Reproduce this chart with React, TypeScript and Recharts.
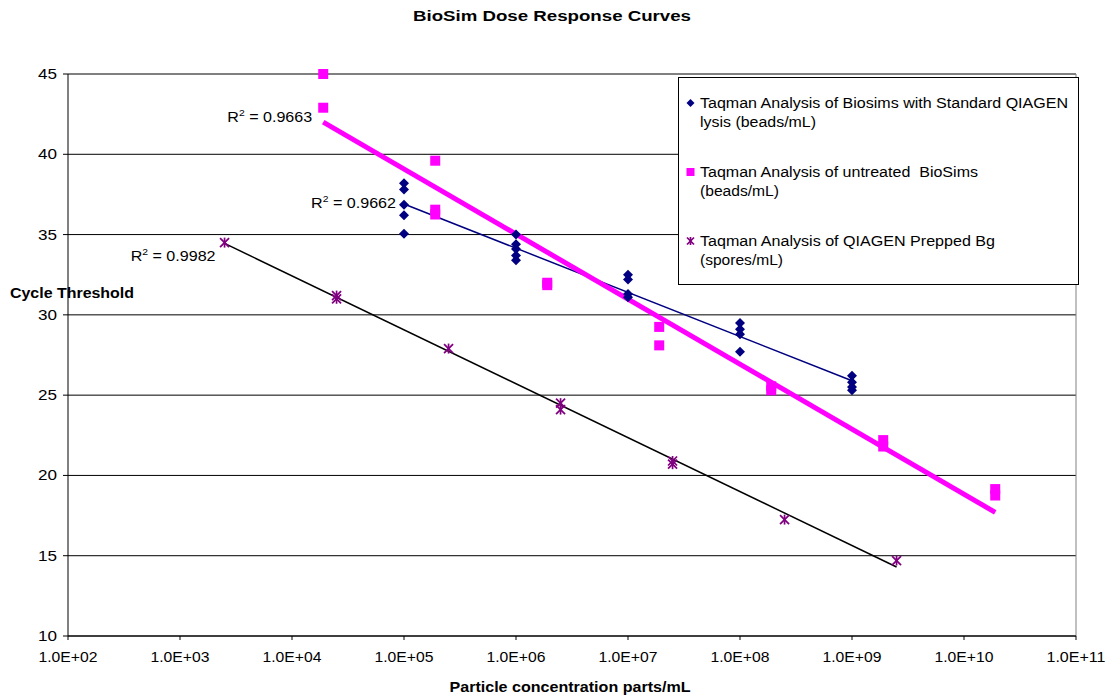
import { ScatterChart, Scatter, XAxis, YAxis, CartesianGrid, Legend, ReferenceLine } from 'recharts';

const FONT = '"Liberation Sans", Arial, sans-serif';

// Cycle threshold readings, [concentration, Ct]
const LYSIS_POINTS = [
  [1e5, 38.2], [1e5, 37.8], [1e5, 36.85], [1e5, 36.2], [1e5, 35.05],
  [1e6, 35.0], [1e6, 34.4], [1e6, 34.1], [1e6, 33.7], [1e6, 33.4],
  [1e7, 32.5], [1e7, 32.2], [1e7, 31.3], [1e7, 31.1],
  [1e8, 29.5], [1e8, 29.1], [1e8, 28.8], [1e8, 27.7],
  [1e9, 26.2], [1e9, 25.8], [1e9, 25.5], [1e9, 25.3],
];
const UNTREATED_POINTS = [
  [1.9e4, 45.0], [1.9e4, 42.9],
  [1.9e5, 39.6], [1.9e5, 36.55], [1.9e5, 36.25],
  [1.9e6, 32.0], [1.9e6, 31.85],
  [1.9e7, 29.25], [1.9e7, 28.1],
  [1.9e8, 25.55], [1.9e8, 25.3],
  [1.9e9, 22.2], [1.9e9, 21.8],
  [1.9e10, 19.15], [1.9e10, 18.75],
];
const SPORE_POINTS = [
  [2.5e3, 34.5],
  [2.5e4, 31.2], [2.5e4, 31.0],
  [2.5e5, 27.9],
  [2.5e6, 24.5], [2.5e6, 24.1],
  [2.5e7, 20.9], [2.5e7, 20.7],
  [2.5e8, 17.25],
  [2.5e9, 14.7],
];

// linear trend lines (log x), endpoints as drawn
const LYSIS_TREND = [[1e5, 36.9], [1e9, 25.9]];
const UNTREATED_TREND = [[1.9e4, 42.0], [1.9e10, 17.7]];
const SPORE_TREND = [[2.5e3, 34.45], [2.5e9, 14.3]];

const R2_LABELS = [
  { at: UNTREATED_TREND[0], text: '0.9663' },
  { at: LYSIS_TREND[0], text: '0.9662' },
  { at: SPORE_TREND[0], text: '0.9982' },
];

const X_TICKS = [1e2, 1e3, 1e4, 1e5, 1e6, 1e7, 1e8, 1e9, 1e10, 1e11];
const Y_TICKS = [10, 15, 20, 25, 30, 35, 40, 45];

const LEGEND_ITEMS = [
  { marker: 'diamond', lines: ['Taqman Analysis of Biosims with Standard QIAGEN', 'lysis (beads/mL)'] },
  { marker: 'square', lines: ['Taqman Analysis of untreated  BioSims', '(beads/mL)'] },
  { marker: 'star', lines: ['Taqman Analysis of QIAGEN Prepped Bg', '(spores/mL)'] },
];

const toXY = (pts: number[][]) => pts.map(([x, y]) => ({ x, y }));

const NAVY = '#000080';
const MAGENTA = '#FF00FF';
const PURPLE = '#800080';

// label offsets from the trend start, and stretched widths for text
const R2_OFFSET: Record<string, [number, number]> = {
  '0.9663': [-11, 0],
  '0.9662': [-8, 4],
  '0.9982': [-9, 18],
};
const LEGEND_WIDTHS = [[368, 116], [278, 79], [295, 83]];

function Diamond({ cx, cy, r, fill }: any) {
  return <path d={`M${cx},${cy - r}L${cx + r},${cy}L${cx},${cy + r}L${cx - r},${cy}Z`} fill={fill} />;
}
function Square({ cx, cy, r, fill }: any) {
  return <rect x={cx - r} y={cy - r} width={2 * r} height={2 * r} fill={fill} />;
}
function Star({ cx, cy, r, stroke }: any) {
  return (
    <g stroke={stroke} strokeWidth={1.7}>
      <line x1={cx - r} y1={cy - r} x2={cx + r} y2={cy + r} />
      <line x1={cx - r} y1={cy + r} x2={cx + r} y2={cy - r} />
      <line x1={cx} y1={cy - r - 0.5} x2={cx} y2={cy + r + 0.5} />
    </g>
  );
}

function Marker({ kind, cx, cy }: any) {
  if (kind === 'diamond') return <Diamond cx={cx} cy={cy} r={4} fill={NAVY} />;
  if (kind === 'square') return <Square cx={cx} cy={cy} r={4} fill={MAGENTA} />;
  return <Star cx={cx} cy={cy} r={3.5} stroke={PURPLE} />;
}

function fmtExp(v: number) {
  const e = Math.round(Math.log10(v));
  return `1.0E+${String(e).padStart(2, '0')}`;
}

const XTick = ({ x, y, payload }: any) => (
  <text x={x} y={y + 20} textAnchor="middle" fontSize={14} fontFamily={FONT} fill="#000"
    textLength={59} lengthAdjust="spacingAndGlyphs">
    {fmtExp(payload.value)}
  </text>
);

const YTick = ({ x, y, payload }: any) => (
  <text x={x - 4} y={y + 5} textAnchor="end" fontSize={14} fontFamily={FONT} fill="#000"
    textLength={19} lengthAdjust="spacingAndGlyphs">
    {payload.value}
  </text>
);

const R2Shape = (p: any) => {
  const [dx, dy] = R2_OFFSET[p.payload.text] || [0, 0];
  return (
    <g transform={`translate(${p.cx + dx},${p.cy + dy}) scale(1.15,1)`}>
      <text textAnchor="end" fontSize={14} fontFamily={FONT} fill="#000">
        R<tspan fontSize={9} dy={-6}>2</tspan>
        <tspan dy={6}> = {p.payload.text}</tspan>
      </text>
    </g>
  );
};

function LegendBox() {
  const baselines = [[31, 50], [100, 119], [169, 188]];
  return (
    <svg width={402} height={209} style={{ display: 'block' }}>
      <rect x={0.5} y={0.5} width={400} height={207} fill="#fff" stroke="#000" />
      {LEGEND_ITEMS.map((it, i) => (
        <g key={i}>
          <Marker kind={it.marker} cx={12.5} cy={baselines[i][0] - 5} />
          {it.lines.map((ln, j) => (
            <text key={j} x={22} y={baselines[i][j]} fontSize={14} fontFamily={FONT} fill="#000"
              textLength={LEGEND_WIDTHS[i][j]} lengthAdjust="spacingAndGlyphs" style={{ whiteSpace: 'pre' }}>
              {ln}
            </text>
          ))}
        </g>
      ))}
    </svg>
  );
}

const noShape = () => <g />;

export default function App() {
  return (
    <div style={{ position: 'absolute', left: 0, top: 0, width: 1108, height: 696, background: '#fff' }}>
      <ScatterChart width={1108} height={696} margin={{ top: 74, right: 32, left: 0, bottom: 0 }}>
        <CartesianGrid vertical={false} stroke="#000" />
        <XAxis
          type="number"
          dataKey="x"
          scale="log"
          domain={[1e2, 1e11]}
          ticks={X_TICKS}
          interval={0}
          height={60}
          tickSize={4}
          stroke="#000"
          tick={<XTick />}
        />
        <YAxis
          type="number"
          dataKey="y"
          domain={[10, 45]}
          ticks={Y_TICKS}
          interval={0}
          width={68}
          tickSize={5}
          stroke="#000"
          tick={<YTick />}
        />
        <ReferenceLine x={1e11} stroke="#808080" ifOverflow="visible" />
        <Legend
          layout="vertical"
          align="center"
          verticalAlign="middle"
          wrapperStyle={{ left: 678, top: 77, width: 402, height: 209 }}
          content={() => <LegendBox />}
        />
        <Scatter data={toXY(SPORE_TREND)} line={{ stroke: '#000', strokeWidth: 1.5 }} shape={noShape} isAnimationActive={false} legendType="none" />
        <Scatter data={toXY(LYSIS_TREND)} line={{ stroke: NAVY, strokeWidth: 1.5 }} shape={noShape} isAnimationActive={false} legendType="none" />
        <Scatter data={toXY(UNTREATED_TREND)} line={{ stroke: MAGENTA, strokeWidth: 5 }} shape={noShape} isAnimationActive={false} legendType="none" />
        <Scatter data={toXY(LYSIS_POINTS)} shape={(p: any) => <Diamond cx={p.cx} cy={p.cy} r={5} fill={NAVY} />} isAnimationActive={false} />
        <Scatter data={toXY(UNTREATED_POINTS)} shape={(p: any) => <Square cx={p.cx} cy={p.cy} r={5} fill={MAGENTA} />} isAnimationActive={false} />
        <Scatter data={toXY(SPORE_POINTS)} shape={(p: any) => <Star cx={p.cx} cy={p.cy} r={4.5} stroke={PURPLE} />} isAnimationActive={false} />
        <Scatter data={R2_LABELS.map((l) => ({ x: l.at[0], y: l.at[1], text: l.text }))} shape={R2Shape} isAnimationActive={false} legendType="none" />
      </ScatterChart>
      <svg width={1108} height={696} style={{ position: 'absolute', left: 0, top: 0, pointerEvents: 'none' }}>
        <text x={552} y={21} textAnchor="middle" fontSize={14} fontWeight="bold" fontFamily={FONT}
          textLength={278} lengthAdjust="spacingAndGlyphs">BioSim Dose Response Curves</text>
        <text x={10} y={298} fontSize={14} fontWeight="bold" fontFamily={FONT}
          textLength={124} lengthAdjust="spacingAndGlyphs">Cycle Threshold</text>
        <text x={570} y={692} textAnchor="middle" fontSize={14} fontWeight="bold" fontFamily={FONT}
          textLength={241} lengthAdjust="spacingAndGlyphs">Particle concentration parts/mL</text>
      </svg>
    </div>
  );
}
